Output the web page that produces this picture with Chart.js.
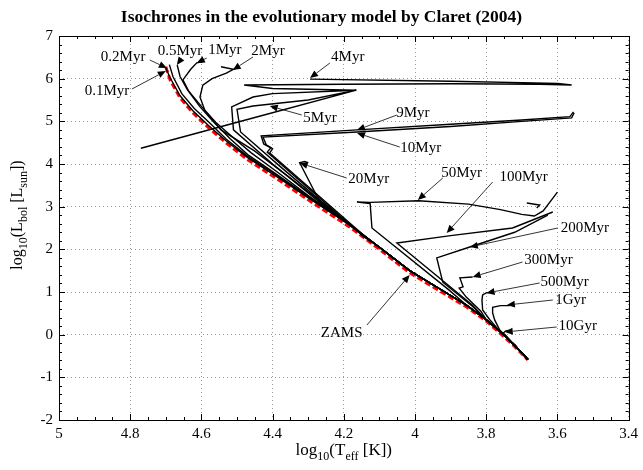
<!DOCTYPE html>
<html><head><meta charset="utf-8">
<script src="https://cdn.jsdelivr.net/npm/chart.js@4"></script>
<style>html,body{margin:0;padding:0;background:#fff}</style>
</head><body>
<div style="width:643px;height:470px"><canvas id="c" width="643" height="470"></canvas></div>
<script>
const FONT = "'Liberation Serif','Times New Roman',serif";
const TITLE = "Isochrones in the evolutionary model by Claret (2004)";

// Axis ticks
const X_TICKS = [5, 4.8, 4.6, 4.4, 4.2, 4, 3.8, 3.6, 3.4];
const Y_TICKS = [-2, -1, 0, 1, 2, 3, 4, 5, 6, 7];

// ZAMS (red dashed)
const ZAMS_T = [4.70, 4.688, 4.66, 4.624, 4.58, 4.53, 4.47, 4.40, 4.30, 4.183, 4.10, 4.015, 3.93, 3.855, 3.80, 3.762, 3.72, 3.683];
const ZAMS_L = [6.28, 5.97, 5.55, 5.20, 4.85, 4.49, 4.10, 3.72, 3.16, 2.52, 2.00, 1.45, 1.02, 0.648, 0.32, 0.04, -0.28, -0.594];

// Common main-sequence part of the isochrones (black)
const MS_T = [3.683, 3.72, 3.762, 3.80, 3.855, 3.93, 4.015, 4.10, 4.183, 4.30, 4.40, 4.47, 4.53, 4.58, 4.624, 4.66, 4.688, 4.70];
const MS_L = [-0.58, -0.25, 0.08, 0.35, 0.69, 1.07, 1.50, 2.05, 2.57, 3.21, 3.77, 4.15, 4.54, 4.90, 5.25, 5.60, 6.02, 6.25];

// Upper (post-turn-off) parts, joined to MS up to index msUpTo
const ISO_NAMES = ['0.1Myr','0.2Myr','0.5Myr','1Myr','2Myr','4Myr','5Myr','9Myr','10Myr','20Myr','50Myr','100Myr','200Myr','300Myr','500Myr','1Gyr','10Gyr'];
const ISO_MS_UPTO = [17, 9, 8, 8, 7, 7, 7, 7, 7, 7, 4, 3, 3, 3, 2, 1, 1];
const ISO_T = [
  [],
  [4.40,4.47,4.53,4.575,4.62,4.655,4.68,4.69],
  [4.30,4.40,4.47,4.52,4.565,4.605,4.64,4.66,4.668],
  [4.30,4.385,4.46,4.515,4.56,4.60,4.635,4.652,4.63,4.613,4.595],
  [4.20,4.35,4.45,4.545,4.59,4.604,4.596,4.57,4.53,4.51,4.545],
  [4.15,4.276,4.40,4.51,4.515,4.455,4.40,4.165,4.40,4.48,4.20,3.90,3.65,3.56,3.60,3.90,4.295],
  [4.14,4.26,4.38,4.49,4.50,4.455,4.41,4.30,4.165,4.45,4.77],
  [4.145,4.415,4.405,4.425,4.432,4.163,3.90,3.70,3.565,3.555],
  [4.14,4.408,4.40,4.418,4.427,4.163,3.90,3.70,3.56,3.553],
  [4.14,4.267,4.324,4.31,4.30],
  [3.905,4.121,4.126,4.163,4.126,3.99,3.85,3.76,3.70,3.665,3.64,3.60],
  [3.84,4.051,3.90,3.726,3.613],
  [3.838,3.922,3.939,3.846,3.72,3.627],
  [3.815,3.856,3.876,3.865,3.874,3.838],
  [3.79,3.81,3.812,3.81,3.80,3.785],
  [3.762,3.776,3.782,3.782,3.76,3.734],
  [3.745,3.752,3.745,3.73]
];
const ISO_L = [
  [],
  [3.80,4.18,4.58,4.95,5.30,5.65,6.05,6.33],
  [3.24,3.82,4.22,4.60,4.98,5.35,5.75,6.05,6.32],
  [3.26,3.80,4.26,4.65,4.98,5.35,5.70,5.97,6.22,6.37,6.40],
  [2.70,3.67,4.30,4.80,5.25,5.57,5.85,6.00,6.13,6.22,6.28],
  [2.35,3.16,4.00,4.80,5.34,5.57,5.65,5.73,5.77,5.85,5.87,5.88,5.87,5.85,5.89,5.94,5.99],
  [2.28,3.10,3.95,4.75,5.28,5.36,5.40,5.50,5.73,5.09,4.37],
  [2.30,4.28,4.38,4.47,4.66,4.80,4.93,5.03,5.11,5.22],
  [2.30,4.26,4.36,4.45,4.63,4.75,4.88,5.00,5.08,5.20],
  [2.30,3.11,4.03,4.06,4.03],
  [1.05,2.50,3.07,3.11,3.10,3.14,3.06,2.93,2.82,2.78,2.90,3.34],
  [0.70,2.15,2.32,2.50,2.875],
  [0.66,1.23,1.80,2.055,2.40,2.80],
  [0.55,0.88,1.09,1.12,1.33,1.35],
  [0.35,0.58,0.81,0.93,0.98,0.99],
  [0.11,0.34,0.51,0.64,0.68,0.68],
  [-0.02,0.04,0.09,0.11]
];
// small blue-loop hook of 50 Myr
const HOOK50_T = [3.686, 3.65, 3.658];
const HOOK50_L = [3.086, 3.04, 2.97];

// Labels: text, text centre (T,L), arrow start (T,L), arrow tip (T,L)
const LABEL_TEXT = ['0.1Myr','0.2Myr','0.5Myr','1Myr','2Myr','4Myr','5Myr','9Myr','10Myr','20Myr','50Myr','100Myr','200Myr','300Myr','500Myr','1Gyr','10Gyr','ZAMS'];
const LABEL_T = [4.865,4.820,4.660,4.534,4.413,4.189,4.267,4.006,3.984,4.130,3.869,3.695,3.523,3.625,3.580,3.563,3.543,4.206];
const LABEL_L = [5.711,6.508,6.648,6.672,6.648,6.508,5.078,5.195,4.375,3.648,3.789,3.695,2.500,1.750,1.234,0.8125,0.203,0.039];
const ARROW_T0 = [4.795,4.745,4.655,4.585,4.455,4.239,4.318,4.051,4.043,4.192,3.922,3.782,3.599,3.698,3.650,3.613,3.602,4.135];
const ARROW_L0 = [5.758,6.437,6.484,6.484,6.508,6.367,5.148,5.148,4.398,3.672,3.672,3.578,2.500,1.703,1.211,0.8125,0.180,0.227];
const ARROW_T1 = [4.700,4.697,4.669,4.613,4.512,4.295,4.408,4.163,4.163,4.324,3.992,3.911,3.846,3.838,3.799,3.742,3.748,4.015];
const ARROW_L1 = [6.180,6.250,6.320,6.367,6.203,6.016,5.359,4.797,4.727,4.023,3.156,2.383,2.055,1.352,0.977,0.695,0.0625,1.398];

function pts(T, L){ return T.map((t,i)=>({x:t, y:L[i]})); }

const datasets = [];
ISO_NAMES.forEach((name, k) => {
  const n = ISO_MS_UPTO[k] + 1;
  const T = MS_T.slice(0, n).concat(ISO_T[k]);
  const L = MS_L.slice(0, n).concat(ISO_L[k]);
  datasets.push({label:name, data:pts(T,L), showLine:true, borderColor:'#000', borderWidth:1.4,
    pointRadius:0, fill:false, tension:0, order:1});
});
datasets.push({label:'50Myr hook', data:pts(HOOK50_T,HOOK50_L), showLine:true, borderColor:'#000', borderWidth:1.4, pointRadius:0, order:1});
datasets.push({label:'ZAMS', data:pts(ZAMS_T,ZAMS_L), showLine:true, borderColor:'#ff0000', borderWidth:3,
  borderDash:[6,3], pointRadius:0, order:5});

function drawRich(ctx, parts, x, y, size){
  const sub = Math.round(size*0.72);
  let w = 0;
  parts.forEach(p => { ctx.font = (p[1]?sub:size)+'px '+FONT; w += ctx.measureText(p[0]).width; });
  let cx = x - w/2;
  ctx.textAlign = 'left'; ctx.textBaseline = 'alphabetic';
  parts.forEach(p => {
    ctx.font = (p[1]?sub:size)+'px '+FONT;
    ctx.fillText(p[0], cx, y + (p[1]? size*0.3 : 0));
    cx += ctx.measureText(p[0]).width;
  });
}

const annot = {
  id:'annot',
  afterDatasetsDraw(chart){
    const ctx = chart.ctx, xs = chart.scales.x, ys = chart.scales.y, a = chart.chartArea;
    ctx.save();
    // frame
    ctx.strokeStyle = '#000'; ctx.lineWidth = 1; ctx.setLineDash([]);
    ctx.strokeRect(Math.round(a.left)+0.5, Math.round(a.top)+0.5, Math.round(a.right-a.left), Math.round(a.bottom-a.top));
    // ticks (inward) major + minor
    ctx.beginPath();
    for (let v = 3.4; v <= 5.0001; v += 0.05){
      const px = Math.round(xs.getPixelForValue(v))+0.5;
      const major = Math.abs(v*5 - Math.round(v*5)) < 1e-6;
      const len = major ? 6 : 3;
      ctx.moveTo(px, a.bottom); ctx.lineTo(px, a.bottom-len);
      ctx.moveTo(px, a.top); ctx.lineTo(px, a.top+len);
    }
    for (let v = -2; v <= 7.0001; v += 0.2){
      const py = Math.round(ys.getPixelForValue(v))+0.5;
      const major = Math.abs(v - Math.round(v)) < 1e-6;
      const len = major ? 6 : 3;
      ctx.moveTo(a.left, py); ctx.lineTo(a.left+len, py);
      ctx.moveTo(a.right, py); ctx.lineTo(a.right-len, py);
    }
    ctx.stroke();
    // arrows
    ctx.lineWidth = 0.8; ctx.strokeStyle = '#000'; ctx.fillStyle = '#000';
    LABEL_TEXT.forEach((t,i) => {
      const x0 = xs.getPixelForValue(ARROW_T0[i]), y0 = ys.getPixelForValue(ARROW_L0[i]);
      const x1 = xs.getPixelForValue(ARROW_T1[i]), y1 = ys.getPixelForValue(ARROW_L1[i]);
      const ang = Math.atan2(y1-y0, x1-x0);
      const hl = 8, hw = 3.5;
      const bx = x1 - hl*Math.cos(ang), by = y1 - hl*Math.sin(ang);
      ctx.beginPath(); ctx.moveTo(x0,y0); ctx.lineTo(bx,by); ctx.stroke();
      ctx.beginPath();
      ctx.moveTo(x1,y1);
      ctx.lineTo(bx + hw*Math.sin(ang), by - hw*Math.cos(ang));
      ctx.lineTo(bx - hw*Math.sin(ang), by + hw*Math.cos(ang));
      ctx.closePath(); ctx.fill();
    });
    // label texts
    ctx.font = '15px '+FONT; ctx.textAlign = 'center'; ctx.textBaseline = 'middle';
    ctx.fillStyle = '#000';
    LABEL_TEXT.forEach((t,i) => {
      const x = xs.getPixelForValue(LABEL_T[i]), y = ys.getPixelForValue(LABEL_L[i]);
      ctx.fillText(t, x, y);
    });
    ctx.restore();
  },
  afterDraw(chart){
    const ctx = chart.ctx, a = chart.chartArea;
    ctx.save(); ctx.fillStyle = '#000';
    // title
    ctx.font = 'bold 17.5px '+FONT; ctx.textAlign = 'center'; ctx.textBaseline = 'middle';
    ctx.fillText(TITLE, chart.width/2, 17);
    // x title
    drawRich(ctx, [['log',0],['10',1],['(T',0],['eff',1],[' [K])',0]], (a.left+a.right)/2, 455, 17);
    // y title
    ctx.translate(22, 215); ctx.rotate(-Math.PI/2);
    drawRich(ctx, [['log',0],['10',1],['(L',0],['bol',1],[' [L',0],['sun',1],['])',0]], 0, 0, 16);
    ctx.restore();
  }
};

new Chart(document.getElementById('c'), {
  type:'scatter',
  data:{datasets},
  options:{
    responsive:false, animation:false,
    layout:{padding:{top:36, right:14, left:0, bottom:0}},
    plugins:{legend:{display:false}, tooltip:{enabled:false}, title:{display:false}},
    scales:{
      x:{type:'linear', reverse:true, min:3.4, max:5,
        afterBuildTicks(s){ s.ticks = X_TICKS.map(v=>({value:v})); },
        ticks:{font:{family:FONT, size:15}, color:'#000', padding:5, maxRotation:0, autoSkip:false,
          callback:(v)=>String(Math.round(v*10)/10)},
        grid:{color:'#9a9a9a', lineWidth:1, drawTicks:false},
        border:{display:false, dash:[1,3]},
        afterFit(s){ s.height = 50; }},
      y:{type:'linear', min:-2, max:7,
        afterBuildTicks(s){ s.ticks = Y_TICKS.map(v=>({value:v})); },
        ticks:{font:{family:FONT, size:15}, color:'#000', padding:6, autoSkip:false,
          callback:(v)=>String(v)},
        grid:{color:'#9a9a9a', lineWidth:1, drawTicks:false},
        border:{display:false, dash:[1,3]},
        afterFit(s){ s.width = 59; }}
    }
  },
  plugins:[annot]
});
</script>
</body></html>
